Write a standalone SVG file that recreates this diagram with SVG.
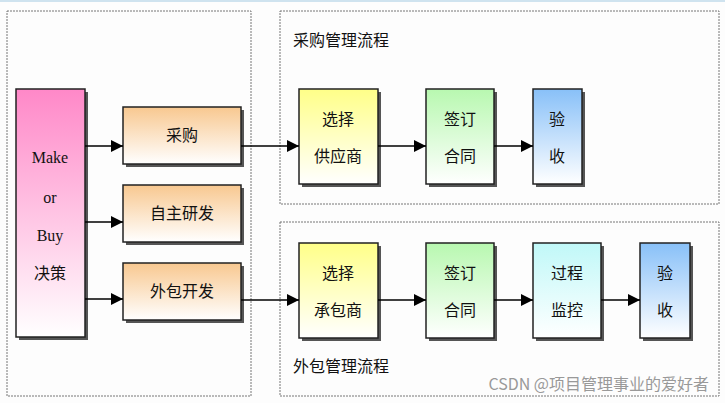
<svg xmlns="http://www.w3.org/2000/svg" width="725" height="403" viewBox="0 0 725 403">
<defs>
<linearGradient id="gPink" x1="0" y1="0" x2="0" y2="1"><stop offset="0" stop-color="#ff88c8"/><stop offset="1" stop-color="#ffffff"/></linearGradient>
<linearGradient id="gOr" x1="0" y1="0" x2="0" y2="1"><stop offset="0" stop-color="#f8c890"/><stop offset="1" stop-color="#ffffff"/></linearGradient>
<linearGradient id="gY" x1="0" y1="0" x2="0" y2="1"><stop offset="0" stop-color="#ffff88"/><stop offset="1" stop-color="#ffffff"/></linearGradient>
<linearGradient id="gG" x1="0" y1="0" x2="0" y2="1"><stop offset="0" stop-color="#b8f8b0"/><stop offset="1" stop-color="#ffffff"/></linearGradient>
<linearGradient id="gB" x1="0" y1="0" x2="0" y2="1"><stop offset="0" stop-color="#88c0f8"/><stop offset="1" stop-color="#ffffff"/></linearGradient>
<linearGradient id="gC" x1="0" y1="0" x2="0" y2="1"><stop offset="0" stop-color="#c0f8f8"/><stop offset="1" stop-color="#ffffff"/></linearGradient>
<marker id="ar" markerWidth="12" markerHeight="12" refX="12" refY="6" orient="auto" markerUnits="userSpaceOnUse"><path d="M0,0 L12,6 L0,12 Z" fill="#000"/></marker>
</defs>
<style>
.frame{fill:none;stroke:#777;stroke-width:1;stroke-dasharray:2,1}
.sh{fill:#555}
.bx{stroke:#222;stroke-width:1.5}
.t{font-family:"Noto Sans CJK SC","Liberation Sans",sans-serif;font-size:16px;fill:#111;text-anchor:middle}
.ts{font-family:"Liberation Serif","Noto Sans CJK SC",serif;font-size:16px;fill:#111;text-anchor:middle}
.h{font-family:"Noto Sans CJK SC",sans-serif;font-size:16px;fill:#111}
.c{stroke:#000;stroke-width:1.5;fill:none;marker-end:url(#ar)}
</style>
<rect width="725" height="403" fill="#fdfdfd"/>
<rect x="0" y="0" width="725" height="2" fill="#cfe3ef"/>
<rect class="frame" x="7" y="11" width="244" height="385"/>
<rect class="frame" x="280" y="11" width="439" height="193"/>
<rect class="frame" x="280" y="222" width="439" height="174"/>
<text class="h" x="293" y="46">采购管理流程</text>
<text class="h" x="293" y="372">外包管理流程</text>
<g id="n-make"><rect class="sh" x="19" y="92" width="69" height="248"/><rect class="bx" x="16" y="89" width="69" height="248" fill="url(#gPink)"/>
<text class="ts" x="50" y="163">Make</text><text class="ts" x="50" y="203">or</text><text class="ts" x="50" y="241">Buy</text><text class="t" x="50" y="279">决策</text></g>
<g id="n-cg"><rect class="sh" x="126" y="110" width="118" height="57"/><rect class="bx" x="123" y="107" width="118" height="57" fill="url(#gOr)"/><text class="t" x="182" y="141">采购</text></g>
<g id="n-zz"><rect class="sh" x="126" y="188" width="118" height="57"/><rect class="bx" x="123" y="185" width="118" height="57" fill="url(#gOr)"/><text class="t" x="182" y="219">自主研发</text></g>
<g id="n-wb"><rect class="sh" x="126" y="266" width="118" height="57"/><rect class="bx" x="123" y="263" width="118" height="57" fill="url(#gOr)"/><text class="t" x="182" y="297">外包开发</text></g>
<g id="n-xz1"><rect class="sh" x="302" y="92" width="79" height="95"/><rect class="bx" x="299" y="89" width="79" height="95" fill="url(#gY)"/><text class="t" x="338" y="125">选择</text><text class="t" x="338" y="162">供应商</text></g>
<g id="n-qd1"><rect class="sh" x="429" y="92" width="68" height="95"/><rect class="bx" x="426" y="89" width="68" height="95" fill="url(#gG)"/><text class="t" x="460" y="125">签订</text><text class="t" x="460" y="162">合同</text></g>
<g id="n-ys1"><rect class="sh" x="536" y="92" width="49" height="95"/><rect class="bx" x="533" y="89" width="49" height="95" fill="url(#gB)"/><text class="t" x="557" y="125">验</text><text class="t" x="557" y="162">收</text></g>
<g id="n-xz2"><rect class="sh" x="302" y="246" width="79" height="95"/><rect class="bx" x="299" y="243" width="79" height="95" fill="url(#gY)"/><text class="t" x="338" y="279">选择</text><text class="t" x="338" y="316">承包商</text></g>
<g id="n-qd2"><rect class="sh" x="429" y="246" width="68" height="95"/><rect class="bx" x="426" y="243" width="68" height="95" fill="url(#gG)"/><text class="t" x="460" y="279">签订</text><text class="t" x="460" y="316">合同</text></g>
<g id="n-jk"><rect class="sh" x="536" y="246" width="68" height="95"/><rect class="bx" x="533" y="243" width="68" height="95" fill="url(#gC)"/><text class="t" x="567" y="279">过程</text><text class="t" x="567" y="316">监控</text></g>
<g id="n-ys2"><rect class="sh" x="643" y="246" width="50" height="95"/><rect class="bx" x="640" y="243" width="50" height="95" fill="url(#gB)"/><text class="t" x="665" y="279">验</text><text class="t" x="665" y="316">收</text></g>
<g id="connectors">
<line class="c" x1="85" y1="146" x2="123" y2="146"/>
<line class="c" x1="85" y1="222" x2="123" y2="222"/>
<line class="c" x1="85" y1="299" x2="123" y2="299"/>
<line class="c" x1="241" y1="146" x2="299" y2="146"/>
<line class="c" x1="378" y1="146" x2="426" y2="146"/>
<line class="c" x1="494" y1="146" x2="533" y2="146"/>
<line class="c" x1="241" y1="300" x2="299" y2="300"/>
<line class="c" x1="378" y1="300" x2="426" y2="300"/>
<line class="c" x1="494" y1="300" x2="533" y2="300"/>
<line class="c" x1="601" y1="300" x2="640" y2="300"/>
</g>
<text x="709" y="390" text-anchor="end" font-family="Noto Sans CJK SC,sans-serif" font-size="16" fill="#999">CSDN @项目管理事业的爱好者</text>
</svg>
